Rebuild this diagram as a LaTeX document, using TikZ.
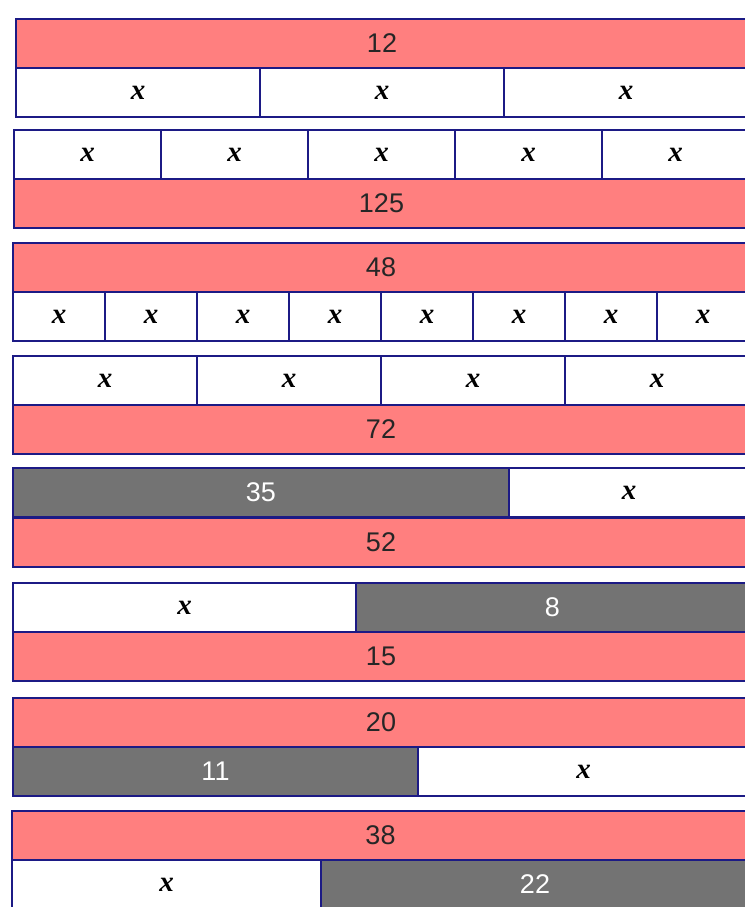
\documentclass[tikz,border=0pt]{standalone}
\usepackage{fontspec}
\setmainfont{Liberation Sans}
\newfontfamily\xfont{Liberation Serif}
\definecolor{barred}{HTML}{FF7F7F}
\definecolor{bargray}{HTML}{737373}
\definecolor{barline}{HTML}{1C1A85}
\tikzset{
  cellbox/.style={draw=barline, line width=2pt, anchor=north west, inner sep=0pt, minimum height=49pt},
  redcell/.style={cellbox, fill=barred},
  whitecell/.style={cellbox, fill=white},
  graycell/.style={cellbox, fill=bargray},
  numlbl/.style={font=\fontsize{27}{27}\selectfont, text=black!85},
  whitelbl/.style={font=\fontsize{27}{27}\selectfont, text=white},
  xlbl/.style={font=\xfont\bfseries\itshape\fontsize{29}{29}\selectfont, text=black},
}
\newcommand{\xv}{x}
\begin{document}
\begin{tikzpicture}[x=1pt,y=-1pt]
\useasboundingbox (0,0) rectangle (744,907);
\fill[white] (0,0) rectangle (744,907);
% group 1
\node[redcell, minimum width=732pt] (g1r) at (15,18) {};
\node[numlbl] (g1l) at (g1r.center) {12};
\foreach \i in {0,1,2}{
  \node[whitecell, minimum width=244pt] (g1c\i) at ({15+244*\i},67) {};
  \node[xlbl] (g1x\i) at (g1c\i.center) {\xv};
}
% group 2
\foreach \i in {0,...,4}{
  \node[whitecell, minimum width=147pt] (g2c\i) at ({13+147*\i},129) {};
  \node[xlbl] (g2x\i) at (g2c\i.center) {\xv};
}
\node[redcell, minimum width=735pt] (g2r) at (13,178) {};
\node[numlbl] (g2l) at (g2r.center) {125};
% group 3
\node[redcell, minimum width=736pt] (g3r) at (12,242) {};
\node[numlbl] (g3l) at (g3r.center) {48};
\foreach \i in {0,...,7}{
  \node[whitecell, minimum width=92pt] (g3c\i) at ({12+92*\i},291) {};
  \node[xlbl] (g3x\i) at (g3c\i.center) {\xv};
}
% group 4
\foreach \i in {0,...,3}{
  \node[whitecell, minimum width=184pt] (g4c\i) at ({12+184*\i},355) {};
  \node[xlbl] (g4x\i) at (g4c\i.center) {\xv};
}
\node[redcell, minimum width=736pt] (g4r) at (12,404) {};
\node[numlbl] (g4l) at (g4r.center) {72};
% group 5
\node[graycell, minimum width=496pt] (g5g) at (12,467) {};
\node[whitelbl] (g5gl) at (g5g.center) {35};
\node[whitecell, minimum width=240pt] (g5w) at (508,467) {};
\node[xlbl] (g5x) at (g5w.center) {\xv};
\node[redcell, minimum width=736pt] (g5r) at (12,517) {};
\node[numlbl] (g5l) at (g5r.center) {52};
% group 6
\node[whitecell, minimum width=343pt] (g6w) at (12,582) {};
\node[xlbl] (g6x) at (g6w.center) {\xv};
\node[graycell, minimum width=393pt] (g6g) at (355,582) {};
\node[whitelbl] (g6gl) at (g6g.center) {8};
\node[redcell, minimum width=736pt] (g6r) at (12,631) {};
\node[numlbl] (g6l) at (g6r.center) {15};
% group 7
\node[redcell, minimum width=736pt] (g7r) at (12,697) {};
\node[numlbl] (g7l) at (g7r.center) {20};
\node[graycell, minimum width=405pt] (g7g) at (12,746) {};
\node[whitelbl] (g7gl) at (g7g.center) {11};
\node[whitecell, minimum width=331pt] (g7w) at (417,746) {};
\node[xlbl] (g7x) at (g7w.center) {\xv};
% group 8
\node[redcell, minimum width=737pt] (g8r) at (11,810) {};
\node[numlbl] (g8l) at (g8r.center) {38};
\node[whitecell, minimum width=309pt] (g8w) at (11,859) {};
\node[xlbl] (g8x) at (g8w.center) {\xv};
\node[graycell, minimum width=428pt] (g8g) at (320,859) {};
\node[whitelbl] (g8gl) at (g8g.center) {22};
\end{tikzpicture}
\end{document}
